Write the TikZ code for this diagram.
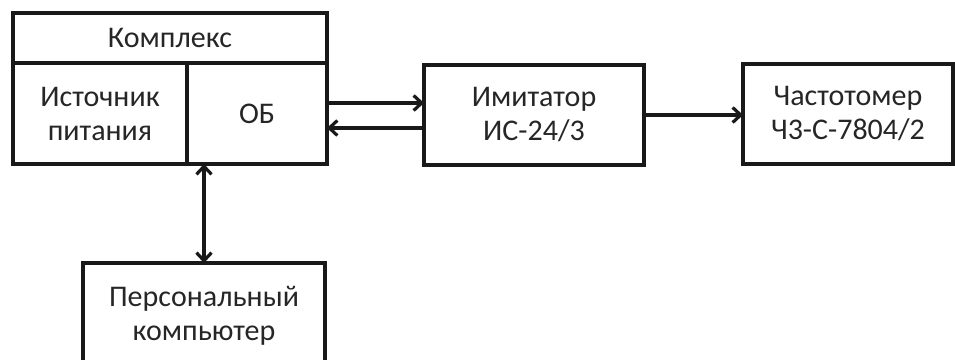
\documentclass[tikz,border=0pt]{standalone}
\usepackage{fontspec}
\setmainfont{Carlito}
\usetikzlibrary{arrows.meta, positioning, calc}

\begin{document}
\begin{tikzpicture}[x=1pt, y=-1pt]
    \tikzset{
        block/.style={
                draw=black!90, line width=3.2pt, align=center,
                inner sep=0pt, outer sep=0pt, text=black!85,
                font=\fontsize{30}{34}\selectfont
            },
        link/.style={
                line width=3.2pt, draw=black!90,
                -{Straight Barb[length=8pt, width=15pt]}
            },
        both link/.style={
                line width=3.2pt, draw=black!90,
                {Straight Barb[length=8pt, width=15pt]}-{Straight Barb[length=8pt, width=15pt]}
            }
    }

    \clip (0,0) rectangle (955,359);
    \fill[white] (0,0) rectangle (955,359);

    % Complex
    \node[block, minimum width=314pt, minimum height=50pt] (kompleks) at (170, 38) {Комплекс};
    \node[block, minimum width=174pt, minimum height=101pt] (istochnik) at (100, 113.5) {Источник\\питания};
    \node[block, minimum width=140pt, minimum height=101pt] (ob) at (257, 113.5) {ОБ};

    % Devices
    \node[block, minimum width=220pt, minimum height=100pt] (imitator) at (534, 115) {Имитатор\\ИС-24/3};
    \node[block, minimum width=210pt, minimum height=100pt] (chastotomer) at (848, 114) {Частотомер\\Ч3-С-7804/2};
    \node[block, minimum width=242pt, minimum height=105pt] (pc) at (204, 315.5) {Персональный\\компьютер};

    % Links
    \coordinate (up) at ([yshift=12pt]imitator.west);
    \coordinate (dn) at ([yshift=-13pt]imitator.west);
    \draw[link] (up -| ob.east) -- (up);
    \draw[link] (dn) -- (dn -| ob.east);
    \draw[link] (imitator.east) -- (imitator.east -| chastotomer.west);
    \draw[both link] (pc.north |- ob.south) -- (pc.north);
\end{tikzpicture}
\end{document}
